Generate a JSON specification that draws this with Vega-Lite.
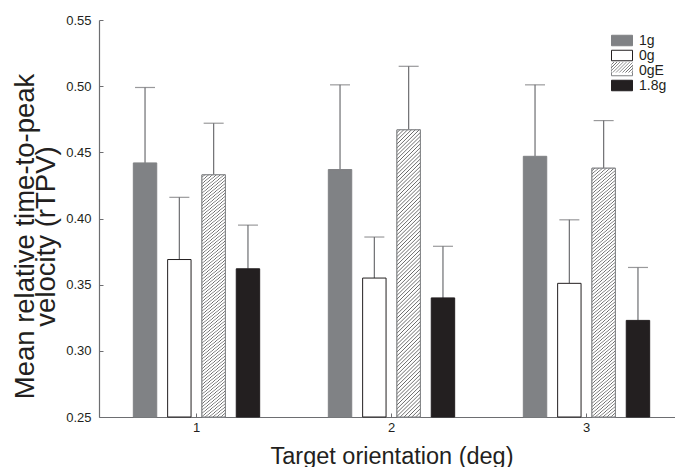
{
  "$schema": "https://vega.github.io/schema/vega-lite/v6.json",
  "autosize": "none",
  "width": 576,
  "height": 397,
  "padding": {"left": 99, "top": 20, "right": 0, "bottom": 50},
  "background": "#ffffff",
  "datasets": {
    "bars": [
      {"orient": "1", "cond": "1g", "mean": 0.442, "upper": 0.499},
      {"orient": "1", "cond": "0g", "mean": 0.369, "upper": 0.416},
      {"orient": "1", "cond": "0gE", "mean": 0.433, "upper": 0.472},
      {"orient": "1", "cond": "1.8g", "mean": 0.362, "upper": 0.395},
      {"orient": "2", "cond": "1g", "mean": 0.437, "upper": 0.501},
      {"orient": "2", "cond": "0g", "mean": 0.355, "upper": 0.386},
      {"orient": "2", "cond": "0gE", "mean": 0.467, "upper": 0.515},
      {"orient": "2", "cond": "1.8g", "mean": 0.340, "upper": 0.379},
      {"orient": "3", "cond": "1g", "mean": 0.447, "upper": 0.501},
      {"orient": "3", "cond": "0g", "mean": 0.351, "upper": 0.399},
      {"orient": "3", "cond": "0gE", "mean": 0.438, "upper": 0.474},
      {"orient": "3", "cond": "1.8g", "mean": 0.323, "upper": 0.363}
    ]
  },
  "data": {"name": "bars"},
  "encoding": {
    "x": {
      "field": "orient", "type": "ordinal",
      "scale": {"range": [0, 585], "paddingInner": 0, "paddingOuter": 0},
      "axis": {
        "title": "Target orientation (deg)", "labelAngle": 0,
        "domainColor": "#6d6e71", "tickColor": "#6d6e71", "tickSize": -4,
        "labelPadding": 8, "labelFontSize": 13, "labelColor": "#231f20",
        "titleFontSize": 23.5, "titleFontWeight": "normal", "titleColor": "#231f20",
        "titleY": 46, "titleBaseline": "alphabetic"
      }
    },
    "xOffset": {
      "field": "cond", "type": "nominal",
      "scale": {"domain": ["1g", "0g", "0gE", "1.8g"], "paddingInner": 0.317, "paddingOuter": 1.486}
    }
  },
  "layer": [
    {
      "mark": {"type": "rule", "color": "#6d6e71", "strokeWidth": 1.2},
      "encoding": {
        "y": {"field": "mean", "type": "quantitative"},
        "y2": {"field": "upper"}
      }
    },
    {
      "mark": {"type": "tick", "color": "#6d6e71", "size": 20, "thickness": 1.2},
      "encoding": {
        "y": {"field": "upper", "type": "quantitative"}
      }
    },
    {
      "mark": {"type": "bar", "strokeWidth": 1},
      "encoding": {
        "y": {
          "field": "mean", "type": "quantitative",
          "scale": {"domain": [0.25, 0.55], "zero": false, "nice": false},
          "axis": {
            "values": [0.25, 0.3, 0.35, 0.4, 0.45, 0.5, 0.55], "format": ".2f",
            "domainColor": "#6d6e71", "tickColor": "#6d6e71", "tickSize": -4,
            "labelPadding": 12, "labelFontSize": 13, "labelColor": "#231f20",
            "title": ["Mean relative time-to-peak", "velocity (rTPV)"],
            "titleFontSize": 27.5, "titleFontWeight": "normal", "titleColor": "#231f20",
            "titleLineHeight": 21, "titleX": -74, "titleY": 216,
            "titleAlign": "center", "titleBaseline": "middle", "titleAngle": -90
          }
        },
        "y2": {"datum": 0.25},
        "color": {
          "field": "cond", "type": "nominal",
          "scale": {"domain": ["1g", "0g", "0gE", "1.8g"], "range": ["#808285", "#ffffff", "#ffffff", "#231f20"]},
          "legend": {
            "title": null, "orient": "none", "legendX": 516, "legendY": 13.5,
            "symbolType": "M-2,-1H2V1H-2Z", "symbolSize": 110.25, "symbolStrokeWidth": 1,
            "labelFontSize": 14, "labelOffset": 10, "rowPadding": -2, "padding": 0,
            "labelColor": "#231f20"
          }
        },
        "stroke": {
          "field": "cond", "type": "nominal",
          "scale": {"domain": ["1g", "0g", "0gE", "1.8g"], "range": ["#808285", "#231f20", "#808285", "#231f20"]},
          "legend": {
            "title": null, "orient": "none", "legendX": 516, "legendY": 13.5,
            "symbolType": "M-2,-1H2V1H-2Z", "symbolSize": 110.25, "symbolStrokeWidth": 1,
            "labelFontSize": 14, "labelOffset": 10, "rowPadding": -2, "padding": 0,
            "labelColor": "#231f20"
          }
        }
      }
    },
    {
      "transform": [{"filter": "datum.cond === '0gE'"}],
      "mark": {"type": "bar", "stroke": "#808285", "strokeWidth": 1,
        "fill": {"gradient": "linear", "x1": 0, "y1": 0, "x2": 1.2, "y2": 0.6, "stops": [
          {"offset": 0, "color": "#fff"}, {"offset": 0.05, "color": "#fff"}, {"offset": 0.075, "color": "#666"},
          {"offset": 0.1, "color": "#fff"}, {"offset": 0.15, "color": "#fff"}, {"offset": 0.175, "color": "#666"},
          {"offset": 0.2, "color": "#fff"}, {"offset": 0.25, "color": "#fff"}, {"offset": 0.275, "color": "#666"},
          {"offset": 0.3, "color": "#fff"}, {"offset": 0.35, "color": "#fff"}, {"offset": 0.375, "color": "#666"},
          {"offset": 0.4, "color": "#fff"}, {"offset": 0.45, "color": "#fff"}, {"offset": 0.475, "color": "#666"},
          {"offset": 0.5, "color": "#fff"}, {"offset": 0.55, "color": "#fff"}, {"offset": 0.575, "color": "#666"},
          {"offset": 0.6, "color": "#fff"}, {"offset": 0.65, "color": "#fff"}, {"offset": 0.675, "color": "#666"},
          {"offset": 0.7, "color": "#fff"}, {"offset": 0.75, "color": "#fff"}, {"offset": 0.775, "color": "#666"},
          {"offset": 0.8, "color": "#fff"}, {"offset": 0.85, "color": "#fff"}, {"offset": 0.875, "color": "#666"},
          {"offset": 0.9, "color": "#fff"}, {"offset": 0.95, "color": "#fff"}, {"offset": 0.975, "color": "#666"},
          {"offset": 1, "color": "#fff"}
        ]}
      },
      "encoding": {
        "y": {"datum": 0.25, "type": "quantitative"},
        "y2": {"datum": 0.25},
        "strokeDash": {
          "field": "cond", "type": "nominal",
          "scale": {"range": [[1, 0]]},
          "legend": {
            "title": null, "orient": "none", "legendX": 516, "legendY": 40.3,
            "symbolType": "M-2,-1H2V1H-2Z", "symbolSize": 110.25, "symbolStrokeWidth": 1,
            "symbolOpacity": 1, "symbolStrokeColor": "#808285",
            "labelFontSize": 14, "labelOffset": 10, "padding": 0, "labelOpacity": 0,
            "labelExpr": "''"
          }
        }
      }
    },
    {
      "transform": [{"filter": "datum.cond === '0gE'"}],
      "mark": {"type": "bar", "stroke": "#808285", "strokeWidth": 1,
        "fill": {"gradient": "linear", "x1": 0, "y1": 0, "x2": 0.1047, "y2": 1.309, "stops": [
{"offset":0,"color":"#fff"},{"offset":0.005,"color":"#fff"},{"offset":0.0075,"color":"#666"},
{"offset":0.01,"color":"#fff"},{"offset":0.015,"color":"#fff"},{"offset":0.0175,"color":"#666"},
{"offset":0.02,"color":"#fff"},{"offset":0.025,"color":"#fff"},{"offset":0.0275,"color":"#666"},
{"offset":0.03,"color":"#fff"},{"offset":0.035,"color":"#fff"},{"offset":0.0375,"color":"#666"},
{"offset":0.04,"color":"#fff"},{"offset":0.045,"color":"#fff"},{"offset":0.0475,"color":"#666"},
{"offset":0.05,"color":"#fff"},{"offset":0.055,"color":"#fff"},{"offset":0.0575,"color":"#666"},
{"offset":0.06,"color":"#fff"},{"offset":0.065,"color":"#fff"},{"offset":0.0675,"color":"#666"},
{"offset":0.07,"color":"#fff"},{"offset":0.075,"color":"#fff"},{"offset":0.0775,"color":"#666"},
{"offset":0.08,"color":"#fff"},{"offset":0.085,"color":"#fff"},{"offset":0.0875,"color":"#666"},
{"offset":0.09,"color":"#fff"},{"offset":0.095,"color":"#fff"},{"offset":0.0975,"color":"#666"},
{"offset":0.10,"color":"#fff"},{"offset":0.105,"color":"#fff"},{"offset":0.1075,"color":"#666"},
{"offset":0.11,"color":"#fff"},{"offset":0.115,"color":"#fff"},{"offset":0.1175,"color":"#666"},
{"offset":0.12,"color":"#fff"},{"offset":0.125,"color":"#fff"},{"offset":0.1275,"color":"#666"},
{"offset":0.13,"color":"#fff"},{"offset":0.135,"color":"#fff"},{"offset":0.1375,"color":"#666"},
{"offset":0.14,"color":"#fff"},{"offset":0.145,"color":"#fff"},{"offset":0.1475,"color":"#666"},
{"offset":0.15,"color":"#fff"},{"offset":0.155,"color":"#fff"},{"offset":0.1575,"color":"#666"},
{"offset":0.16,"color":"#fff"},{"offset":0.165,"color":"#fff"},{"offset":0.1675,"color":"#666"},
{"offset":0.17,"color":"#fff"},{"offset":0.175,"color":"#fff"},{"offset":0.1775,"color":"#666"},
{"offset":0.18,"color":"#fff"},{"offset":0.185,"color":"#fff"},{"offset":0.1875,"color":"#666"},
{"offset":0.19,"color":"#fff"},{"offset":0.195,"color":"#fff"},{"offset":0.1975,"color":"#666"},
{"offset":0.20,"color":"#fff"},{"offset":0.205,"color":"#fff"},{"offset":0.2075,"color":"#666"},
{"offset":0.21,"color":"#fff"},{"offset":0.215,"color":"#fff"},{"offset":0.2175,"color":"#666"},
{"offset":0.22,"color":"#fff"},{"offset":0.225,"color":"#fff"},{"offset":0.2275,"color":"#666"},
{"offset":0.23,"color":"#fff"},{"offset":0.235,"color":"#fff"},{"offset":0.2375,"color":"#666"},
{"offset":0.24,"color":"#fff"},{"offset":0.245,"color":"#fff"},{"offset":0.2475,"color":"#666"},
{"offset":0.25,"color":"#fff"},{"offset":0.255,"color":"#fff"},{"offset":0.2575,"color":"#666"},
{"offset":0.26,"color":"#fff"},{"offset":0.265,"color":"#fff"},{"offset":0.2675,"color":"#666"},
{"offset":0.27,"color":"#fff"},{"offset":0.275,"color":"#fff"},{"offset":0.2775,"color":"#666"},
{"offset":0.28,"color":"#fff"},{"offset":0.285,"color":"#fff"},{"offset":0.2875,"color":"#666"},
{"offset":0.29,"color":"#fff"},{"offset":0.295,"color":"#fff"},{"offset":0.2975,"color":"#666"},
{"offset":0.30,"color":"#fff"},{"offset":0.305,"color":"#fff"},{"offset":0.3075,"color":"#666"},
{"offset":0.31,"color":"#fff"},{"offset":0.315,"color":"#fff"},{"offset":0.3175,"color":"#666"},
{"offset":0.32,"color":"#fff"},{"offset":0.325,"color":"#fff"},{"offset":0.3275,"color":"#666"},
{"offset":0.33,"color":"#fff"},{"offset":0.335,"color":"#fff"},{"offset":0.3375,"color":"#666"},
{"offset":0.34,"color":"#fff"},{"offset":0.345,"color":"#fff"},{"offset":0.3475,"color":"#666"},
{"offset":0.35,"color":"#fff"},{"offset":0.355,"color":"#fff"},{"offset":0.3575,"color":"#666"},
{"offset":0.36,"color":"#fff"},{"offset":0.365,"color":"#fff"},{"offset":0.3675,"color":"#666"},
{"offset":0.37,"color":"#fff"},{"offset":0.375,"color":"#fff"},{"offset":0.3775,"color":"#666"},
{"offset":0.38,"color":"#fff"},{"offset":0.385,"color":"#fff"},{"offset":0.3875,"color":"#666"},
{"offset":0.39,"color":"#fff"},{"offset":0.395,"color":"#fff"},{"offset":0.3975,"color":"#666"},
{"offset":0.40,"color":"#fff"},{"offset":0.405,"color":"#fff"},{"offset":0.4075,"color":"#666"},
{"offset":0.41,"color":"#fff"},{"offset":0.415,"color":"#fff"},{"offset":0.4175,"color":"#666"},
{"offset":0.42,"color":"#fff"},{"offset":0.425,"color":"#fff"},{"offset":0.4275,"color":"#666"},
{"offset":0.43,"color":"#fff"},{"offset":0.435,"color":"#fff"},{"offset":0.4375,"color":"#666"},
{"offset":0.44,"color":"#fff"},{"offset":0.445,"color":"#fff"},{"offset":0.4475,"color":"#666"},
{"offset":0.45,"color":"#fff"},{"offset":0.455,"color":"#fff"},{"offset":0.4575,"color":"#666"},
{"offset":0.46,"color":"#fff"},{"offset":0.465,"color":"#fff"},{"offset":0.4675,"color":"#666"},
{"offset":0.47,"color":"#fff"},{"offset":0.475,"color":"#fff"},{"offset":0.4775,"color":"#666"},
{"offset":0.48,"color":"#fff"},{"offset":0.485,"color":"#fff"},{"offset":0.4875,"color":"#666"},
{"offset":0.49,"color":"#fff"},{"offset":0.495,"color":"#fff"},{"offset":0.4975,"color":"#666"},
{"offset":0.50,"color":"#fff"},{"offset":0.505,"color":"#fff"},{"offset":0.5075,"color":"#666"},
{"offset":0.51,"color":"#fff"},{"offset":0.515,"color":"#fff"},{"offset":0.5175,"color":"#666"},
{"offset":0.52,"color":"#fff"},{"offset":0.525,"color":"#fff"},{"offset":0.5275,"color":"#666"},
{"offset":0.53,"color":"#fff"},{"offset":0.535,"color":"#fff"},{"offset":0.5375,"color":"#666"},
{"offset":0.54,"color":"#fff"},{"offset":0.545,"color":"#fff"},{"offset":0.5475,"color":"#666"},
{"offset":0.55,"color":"#fff"},{"offset":0.555,"color":"#fff"},{"offset":0.5575,"color":"#666"},
{"offset":0.56,"color":"#fff"},{"offset":0.565,"color":"#fff"},{"offset":0.5675,"color":"#666"},
{"offset":0.57,"color":"#fff"},{"offset":0.575,"color":"#fff"},{"offset":0.5775,"color":"#666"},
{"offset":0.58,"color":"#fff"},{"offset":0.585,"color":"#fff"},{"offset":0.5875,"color":"#666"},
{"offset":0.59,"color":"#fff"},{"offset":0.595,"color":"#fff"},{"offset":0.5975,"color":"#666"},
{"offset":0.60,"color":"#fff"},{"offset":0.605,"color":"#fff"},{"offset":0.6075,"color":"#666"},
{"offset":0.61,"color":"#fff"},{"offset":0.615,"color":"#fff"},{"offset":0.6175,"color":"#666"},
{"offset":0.62,"color":"#fff"},{"offset":0.625,"color":"#fff"},{"offset":0.6275,"color":"#666"},
{"offset":0.63,"color":"#fff"},{"offset":0.635,"color":"#fff"},{"offset":0.6375,"color":"#666"},
{"offset":0.64,"color":"#fff"},{"offset":0.645,"color":"#fff"},{"offset":0.6475,"color":"#666"},
{"offset":0.65,"color":"#fff"},{"offset":0.655,"color":"#fff"},{"offset":0.6575,"color":"#666"},
{"offset":0.66,"color":"#fff"},{"offset":0.665,"color":"#fff"},{"offset":0.6675,"color":"#666"},
{"offset":0.67,"color":"#fff"},{"offset":0.675,"color":"#fff"},{"offset":0.6775,"color":"#666"},
{"offset":0.68,"color":"#fff"},{"offset":0.685,"color":"#fff"},{"offset":0.6875,"color":"#666"},
{"offset":0.69,"color":"#fff"},{"offset":0.695,"color":"#fff"},{"offset":0.6975,"color":"#666"},
{"offset":0.70,"color":"#fff"},{"offset":0.705,"color":"#fff"},{"offset":0.7075,"color":"#666"},
{"offset":0.71,"color":"#fff"},{"offset":0.715,"color":"#fff"},{"offset":0.7175,"color":"#666"},
{"offset":0.72,"color":"#fff"},{"offset":0.725,"color":"#fff"},{"offset":0.7275,"color":"#666"},
{"offset":0.73,"color":"#fff"},{"offset":0.735,"color":"#fff"},{"offset":0.7375,"color":"#666"},
{"offset":0.74,"color":"#fff"},{"offset":0.745,"color":"#fff"},{"offset":0.7475,"color":"#666"},
{"offset":0.75,"color":"#fff"},{"offset":0.755,"color":"#fff"},{"offset":0.7575,"color":"#666"},
{"offset":0.76,"color":"#fff"},{"offset":0.765,"color":"#fff"},{"offset":0.7675,"color":"#666"},
{"offset":0.77,"color":"#fff"},{"offset":0.775,"color":"#fff"},{"offset":0.7775,"color":"#666"},
{"offset":0.78,"color":"#fff"},{"offset":0.785,"color":"#fff"},{"offset":0.7875,"color":"#666"},
{"offset":0.79,"color":"#fff"},{"offset":0.795,"color":"#fff"},{"offset":0.7975,"color":"#666"},
{"offset":0.80,"color":"#fff"},{"offset":0.805,"color":"#fff"},{"offset":0.8075,"color":"#666"},
{"offset":0.81,"color":"#fff"},{"offset":0.815,"color":"#fff"},{"offset":0.8175,"color":"#666"},
{"offset":0.82,"color":"#fff"},{"offset":0.825,"color":"#fff"},{"offset":0.8275,"color":"#666"},
{"offset":0.83,"color":"#fff"},{"offset":1,"color":"#fff"}
        ]}
      },
      "encoding": {
        "y": {"field": "mean", "type": "quantitative"},
        "y2": {"datum": 0.25}
      }
    }
  ],
  "config": {
    "view": {"stroke": null},
    "font": "Liberation Sans",
    "axis": {"grid": false, "domainWidth": 1.2, "tickWidth": 1}
  }
}
